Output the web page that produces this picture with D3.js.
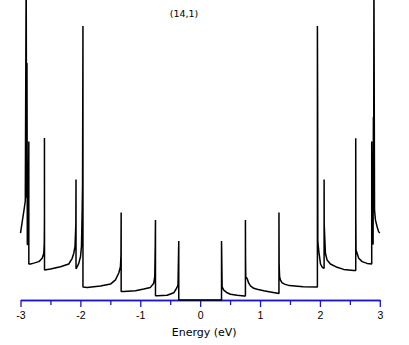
<!DOCTYPE html>
<html>
<head>
<meta charset="utf-8">
<script src="https://cdnjs.cloudflare.com/ajax/libs/d3/7.8.5/d3.min.js"></script>
<style>
  body { margin: 0; background: #fff; }
  #chart-container { width: 409px; height: 345px; }
</style>
</head>
<body>
<div id="chart-container"></div>
<script>
"use strict"

// title and axis texts
const titleText = "(14,1)";
const xLabel = "Energy (eV)";

// tick values of the energy axis
const majorTicks = [-3, -2, -1, 0, 1, 2, 3];
const minorTicks = [-2.5, -1.5, -0.5, 0.5, 1.5, 2.5];

// density of states (energy in eV, dos in arbitrary units)
const energy = [
  -3.000, -2.972, -2.945, -2.920, -2.905, -2.898, -2.892, -2.886, -2.872, -2.861,
  -2.861, -2.833, -2.778, -2.694, -2.666, -2.638, -2.611, -2.603, -2.600, -2.600,
  -2.599, -2.499, -2.332, -2.194, -2.137, -2.110, -2.090, -2.076, -2.073, -2.073,
  -2.053, -2.027, -1.998, -1.982, -1.970, -1.964, -1.957, -1.957, -1.886, -1.664,
  -1.497, -1.414, -1.359, -1.331, -1.322, -1.319, -1.319, -1.275, -1.080, -0.942,
  -0.830, -0.775, -0.758, -0.750, -0.746, -0.746, -0.718, -0.551, -0.441, -0.391,
  -0.370, -0.357, -0.357,
   0.357,  0.357,  0.367,  0.394,  0.451,  0.506,  0.618,  0.740,  0.756,  0.756,
   0.758,  0.762,  0.785,  0.811,  0.840,  0.895,  0.952,  1.062,  1.174,  1.316,
   1.316,  1.319,  1.327,  1.340,  1.365,  1.410,  1.490,  1.720,  1.958,  1.958,
   1.962,  1.965,  1.972,  1.985,  2.010,  2.040,  2.070,  2.070,  2.072,  2.092,
   2.120,  2.175,  2.287,  2.397,  2.564,  2.598,  2.598,  2.600,  2.603,  2.621,
   2.648,  2.705,  2.788,  2.865,  2.865,  2.875,  2.888,  2.893,  2.897,  2.902,
   2.912,  2.927,  2.955,  2.980,  3.000
];
const dos = [
  2.23, 2.60, 2.95, 3.30, 11.0, 3.40, 7.90, 1.85, 1.85, 5.28,
  1.20, 1.20, 1.23, 1.28, 1.33, 1.39, 1.56, 1.90, 2.67, 5.40,
  1.00, 1.03, 1.11, 1.20, 1.39, 1.56, 1.78, 2.50, 4.02, 1.04,
  1.11, 1.22, 1.44, 1.78, 3.00, 3.80, 9.13, 0.43, 0.42, 0.47,
  0.53, 0.67, 0.90, 1.11, 1.50, 2.92, 0.28, 0.28, 0.31, 0.37,
  0.42, 0.56, 0.78, 1.80, 2.67, 0.14, 0.14, 0.16, 0.24, 0.40,
  0.50, 1.97, 0.00,
  0.00, 1.97, 0.44, 0.33, 0.24, 0.19, 0.16, 0.13, 0.13, 2.67,
  1.40, 0.77, 0.72, 0.56, 0.47, 0.39, 0.36, 0.31, 0.27, 0.22,
  2.92, 1.17, 0.78, 0.67, 0.58, 0.53, 0.48, 0.44, 0.43, 9.13,
  6.67, 2.00, 1.80, 1.57, 1.20, 1.09, 1.05, 4.02, 2.50, 1.56,
  1.33, 1.20, 1.09, 1.02, 0.98, 0.98, 5.39, 2.67, 1.67, 1.56,
  1.39, 1.28, 1.22, 1.20, 5.28, 1.90, 1.85, 6.10, 3.00, 11.0,
  3.00, 2.67, 2.44, 2.28, 2.23
];

document.addEventListener('DOMContentLoaded', function(){
  drawChart();
});

function drawChart(){

  let svgWidth = 409;
  let svgHeight = 345;
  let axisY = 300;

  const svg = d3.select('#chart-container')
    .append('svg')
    .attr('width', svgWidth)
    .attr('height', svgHeight)
    .style('font-family', '"DejaVu Sans", sans-serif');

  /***************************************
   SCALES
  ***************************************/
  let xScale = d3.scaleLinear()
    .domain([-3, 3])
    .range([20.5, 379.8]);

  let yScale = d3.scaleLinear()
    .domain([0, 10])
    .range([axisY, 0]);

  /***************************************
   AXIS
  ***************************************/
  //minor ticks, no labels
  const minorAxis = d3.axisBottom(xScale)
    .tickValues(minorTicks)
    .tickSize(5)
    .tickSizeOuter(0)
    .tickFormat('');

  const majorAxis = d3.axisBottom(xScale)
    .tickValues(majorTicks)
    .tickSize(7)
    .tickSizeOuter(0)
    .tickPadding(5)
    .tickFormat(d => String(d));

  let gMinor = svg.append('g')
    .attr('transform', 'translate(0,' + axisY + ')')
    .call(minorAxis);

  let gMajor = svg.append('g')
    .attr('transform', 'translate(0,' + axisY + ')')
    .call(majorAxis);

  [gMinor, gMajor].forEach(g => {
    g.select('.domain').attr('stroke', '#1818c8').attr('stroke-width', 1.3);
    g.selectAll('.tick line').attr('stroke', '#1818c8').attr('stroke-width', 1.3);
  });
  gMajor.selectAll('.tick text')
    .attr('fill', '#000')
    .style('font-size', '10.5px');

  //axis label
  svg.append('text')
    .attr('x', xScale(0) + 4)
    .attr('y', 336)
    .attr('text-anchor', 'middle')
    .style('font-size', '11px')
    .text(xLabel);

  //title
  svg.append('text')
    .attr('x', 184)
    .attr('y', 16.5)
    .attr('text-anchor', 'middle')
    .style('font-size', '9.5px')
    .text(titleText);

  /***************************************
   CURVE
  ***************************************/
  const points = energy.map((e, i) => [e, dos[i]]);

  const line = d3.line()
    .x(d => xScale(d[0]))
    .y(d => yScale(d[1]));

  svg.append('path')
    .datum(points)
    .attr('d', line)
    .attr('fill', 'none')
    .attr('stroke', '#000')
    .attr('stroke-width', 1.5)
    .attr('stroke-linejoin', 'miter')
    .attr('stroke-miterlimit', 1);
}
</script>
</body>
</html>
